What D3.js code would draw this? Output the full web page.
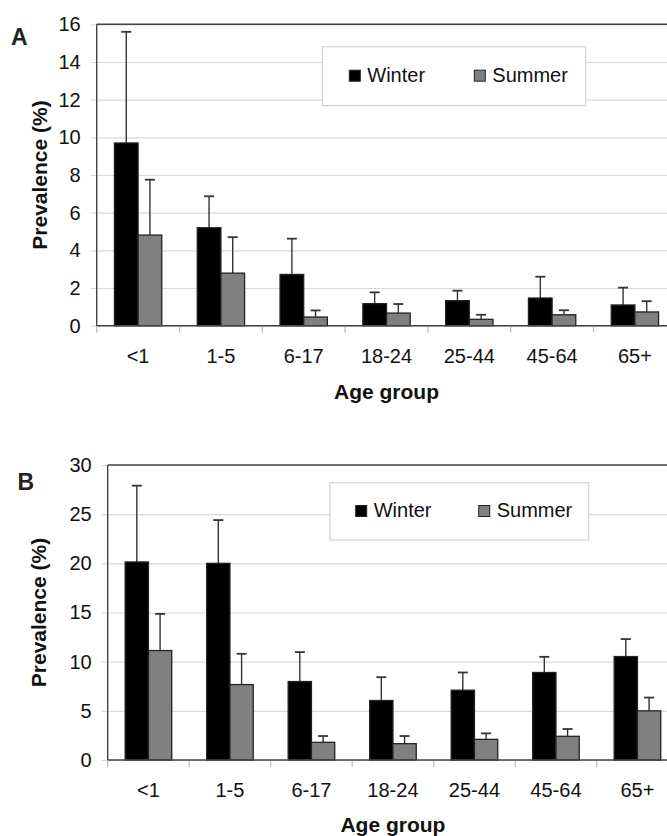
<!DOCTYPE html>
<html>
<head>
<meta charset="utf-8">
<script src="https://cdn.jsdelivr.net/npm/d3@7"></script>
<style>
  body { margin: 0; background: #fff; }
  svg { display: block; font-family: "Liberation Sans", Arial, sans-serif; }
  .grid line { stroke: #d9d9d9; stroke-width: 1.2px; }
  .grid path { display: none; }
  .tick text { fill: #111; }
</style>
</head>
<body>
<svg id="chart" width="667" height="836"></svg>
<script>
const ageGroups = ["<1", "1-5", "6-17", "18-24", "25-44", "45-64", "65+"];
const seasons = ["Winter", "Summer"];

// panel A
const winterA = [9.7, 5.2, 2.72, 1.17, 1.33, 1.47, 1.1];
const winterErrA = [5.9, 1.67, 1.9, 0.6, 0.53, 1.13, 0.92];
const summerA = [4.81, 2.79, 0.46, 0.67, 0.34, 0.58, 0.73];
const summerErrA = [2.94, 1.91, 0.35, 0.48, 0.24, 0.24, 0.57];
const yTicksA = [0, 2, 4, 6, 8, 10, 12, 14, 16];

// panel B
const winterB = [20.14, 20.0, 7.98, 6.05, 7.1, 8.9, 10.52];
const winterErrB = [7.76, 4.4, 2.99, 2.37, 1.8, 1.59, 1.78];
const summerB = [11.13, 7.67, 1.8, 1.66, 2.1, 2.41, 5.0];
const summerErrB = [3.73, 3.13, 0.64, 0.78, 0.61, 0.74, 1.35];
const yTicksB = [0, 5, 10, 15, 20, 25, 30];

const fills = { Winter: "#000000", Summer: "#808080" };

const svg = d3.select("#chart");

function drawPanel(cfg) {
    const { letter, left, right, top, bottom, yMax, yTicks, winter, winterErr, summer, summerErr, legend } = cfg;
    const g = svg.append("g");

    const x = d3.scaleBand().domain(ageGroups).range([left, right]).paddingInner(0).paddingOuter(0);
    const xs = d3.scaleBand().domain(seasons).range([0, x.bandwidth()]).paddingInner(0).paddingOuter(0.75);
    const y = d3.scaleLinear().domain([0, yMax]).range([bottom, top]);

    // gridlines + y labels
    g.append("g")
        .attr("class", "grid")
        .attr("transform", `translate(${left - 6},0)`)
        .call(d3.axisLeft(y).tickValues(yTicks).tickSize(-(right - left + 6)).tickPadding(10))
        .call(a => a.selectAll("text").style("font-size", "20px"));

    // frame: left axis, top border, bottom axis
    g.append("line").attr("x1", left).attr("x2", left).attr("y1", top).attr("y2", bottom)
        .attr("stroke", "#444").attr("stroke-width", 1.4);
    g.append("line").attr("x1", left).attr("x2", right).attr("y1", top).attr("y2", top)
        .attr("stroke", "#444").attr("stroke-width", 1.6);

    // legend
    const lg = g.append("g");
    lg.append("rect").attr("x", legend.x).attr("y", legend.y).attr("width", legend.w).attr("height", legend.h)
        .attr("fill", "#fff").attr("stroke", "#d3d3d3").attr("stroke-width", 1.2);
    seasons.forEach((s, i) => {
        const sx = legend.x + legend.items[i];
        lg.append("rect").attr("x", sx).attr("y", legend.y + legend.sy).attr("width", 11).attr("height", 11)
            .attr("fill", fills[s]).attr("stroke", "#222").attr("stroke-width", 1);
        lg.append("text").attr("x", sx + 18).attr("y", legend.y + legend.sy + 11.5)
            .style("font-size", "20px").attr("fill", "#111").text(s);
    });

    // data rows
    const rows = ageGroups.map((a, i) => ({
        age: a,
        vals: [
            { s: "Winter", v: winter[i], e: winterErr[i] },
            { s: "Summer", v: summer[i], e: summerErr[i] }
        ]
    }));

    const grp = g.append("g").selectAll("g")
        .data(rows)
        .join("g")
        .attr("transform", d => `translate(${x(d.age)},0)`);

    // error bars (upper only)
    const eb = grp.selectAll(".err")
        .data(d => d.vals)
        .join("g")
        .attr("class", "err");
    eb.append("line")
        .attr("x1", d => xs(d.s) + xs.bandwidth() / 2).attr("x2", d => xs(d.s) + xs.bandwidth() / 2)
        .attr("y1", d => y(d.v)).attr("y2", d => y(d.v + d.e))
        .attr("stroke", "#333").attr("stroke-width", 1.4);
    eb.append("line")
        .attr("x1", d => xs(d.s) + xs.bandwidth() / 2 - 5).attr("x2", d => xs(d.s) + xs.bandwidth() / 2 + 5)
        .attr("y1", d => y(d.v + d.e)).attr("y2", d => y(d.v + d.e))
        .attr("stroke", "#333").attr("stroke-width", 1.8);

    grp.selectAll("rect")
        .data(d => d.vals)
        .join("rect")
        .attr("x", d => xs(d.s))
        .attr("width", xs.bandwidth())
        .attr("y", d => y(d.v))
        .attr("height", d => y(0) - y(d.v))
        .attr("fill", d => fills[d.s])
        .attr("stroke", "#222")
        .attr("stroke-width", 1.3);

    // x axis line + boundary ticks
    g.append("line").attr("x1", left).attr("x2", right).attr("y1", bottom).attr("y2", bottom)
        .attr("stroke", "#444").attr("stroke-width", 1.4);
    g.append("g").selectAll("line")
        .data(d3.range(ageGroups.length + 1))
        .join("line")
        .attr("x1", i => left + i * x.step()).attr("x2", i => left + i * x.step())
        .attr("y1", bottom + 1).attr("y2", bottom + 7)
        .attr("stroke", "#bbb").attr("stroke-width", 1.2);

    g.append("g")
        .attr("transform", `translate(0,${bottom})`)
        .call(d3.axisBottom(x).tickSize(0).tickPadding(23))
        .call(a => a.select(".domain").remove())
        .call(a => a.selectAll("text").style("font-size", "20px"));

    // titles
    g.append("text")
        .attr("transform", `translate(${cfg.yTitleX},${(top + bottom) / 2}) rotate(-90)`)
        .attr("text-anchor", "middle").style("font-size", "21px").style("font-weight", "bold")
        .attr("fill", "#111").text("Prevalence (%)");
    g.append("text")
        .attr("x", (left + right) / 2).attr("y", bottom + cfg.xTitleDy)
        .attr("text-anchor", "middle").style("font-size", "21px").style("font-weight", "bold")
        .attr("fill", "#111").text("Age group");
    g.append("text")
        .attr("x", cfg.letterX).attr("y", cfg.letterY)
        .style("font-size", "23px").style("font-weight", "bold").attr("fill", "#222").text(letter);
}

drawPanel({
    letter: "A", letterX: 11, letterY: 44.5,
    left: 96.7, right: 676.3, top: 24.3, bottom: 325.7,
    yMax: 16, yTicks: yTicksA,
    winter: winterA, winterErr: winterErrA, summer: summerA, summerErr: summerErrA,
    legend: { x: 322.3, y: 46.7, w: 263.4, h: 59, sy: 23.5, items: [27, 152] },
    yTitleX: 47, xTitleDy: 73.5
});

drawPanel({
    letter: "B", letterX: 17.5, letterY: 489.5,
    left: 107.7, right: 678.2, top: 465, bottom: 760,
    yMax: 30, yTicks: yTicksB,
    winter: winterB, winterErr: winterErrB, summer: summerB, summerErr: summerErrB,
    legend: { x: 330, y: 482.7, w: 258.7, h: 57.3, sy: 22.8, items: [25.7, 148.7] },
    yTitleX: 45.5, xTitleDy: 71.7
});
</script>
</body>
</html>
